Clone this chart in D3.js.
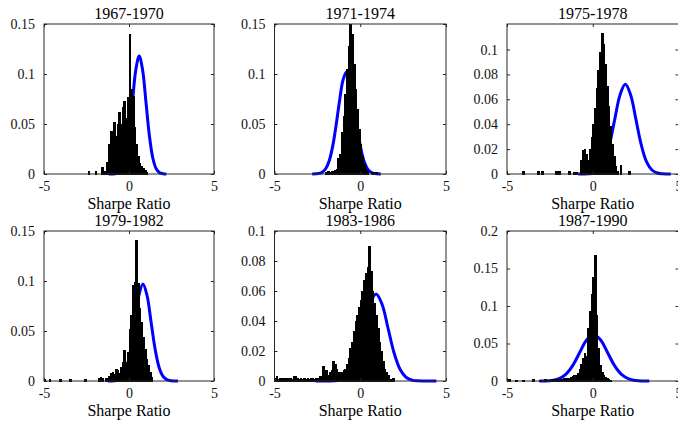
<!DOCTYPE html>
<html>
<head>
<meta charset="utf-8">
<script src="https://cdn.jsdelivr.net/npm/d3@7"></script>
<style>
  html, body { margin: 0; padding: 0; background: #fff; }
  svg { display: block; }
</style>
</head>
<body>
<svg id="chart" width="678" height="423"></svg>
<script>
// Sub-period labels, one small multiple each
const periods = ["1967-1970", "1971-1974", "1975-1978", "1979-1982", "1983-1986", "1987-1990"];

// Shared x axis (Sharpe ratio)
const xDomain = [-5, 5];
const xTicks = [-5, 0, 5];
const xTickLabels = ["-5", "0", "5"];
const binWidth = 0.1;

// Per-panel y ranges and ticks
const yMaxes = [0.15, 0.15, 0.1205, 0.15, 0.1, 0.2];
const yTickSets = [
  [0, 0.05, 0.1, 0.15],
  [0, 0.05, 0.1, 0.15],
  [0, 0.02, 0.04, 0.06, 0.08, 0.1],
  [0, 0.05, 0.1, 0.15],
  [0, 0.02, 0.04, 0.06, 0.08, 0.1],
  [0, 0.05, 0.1, 0.15, 0.2]
];
const yTickLabelSets = [
  ["0", "0.05", "0.1", "0.15"],
  ["0", "0.05", "0.1", "0.15"],
  ["0", "0.02", "0.04", "0.06", "0.08", "0.1"],
  ["0", "0.05", "0.1", "0.15"],
  ["0", "0.02", "0.04", "0.06", "0.08", "0.1"],
  ["0", "0.05", "0.1", "0.15", "0.2"]
];

// Empirical histograms: [bin centre, relative frequency]
const hist1967 = [[-2.35,0.003],[-1.95,0.003],[-1.55,0.007],[-1.45,0.003],[-1.35,0.003],[-1.25,0.012],
  [-1.15,0.03],[-1.05,0.043],[-0.95,0.04],[-0.85,0.052],[-0.75,0.038],[-0.65,0.05],[-0.55,0.062],
  [-0.45,0.05],[-0.35,0.067],[-0.25,0.073],[-0.15,0.056],[-0.05,0.077],[0.05,0.14],[0.15,0.085],
  [0.25,0.078],[0.35,0.047],[0.45,0.03],[0.55,0.018],[0.65,0.011],[0.75,0.008],[0.85,0.006],
  [0.95,0.004],[1.05,0.002]];
const hist1971 = [[-1.95,0.002],[-1.85,0.003],[-1.75,0.002],[-1.65,0.003],[-1.55,0.003],[-1.45,0.004],
  [-1.35,0.005],[-1.25,0.016],[-1.15,0.02],[-1.05,0.042],[-0.95,0.058],[-0.85,0.08],[-0.75,0.105],
  [-0.65,0.128],[-0.55,0.15],[-0.45,0.14],[-0.35,0.11],[-0.25,0.085],[-0.15,0.065],[-0.05,0.045],
  [0.05,0.03],[0.15,0.018],[0.25,0.01],[0.35,0.005],[0.45,0.003],[0.75,0.002],[0.95,0.002]];
const hist1975 = [[-4.05,0.002],[-3.15,0.002],[-2.95,0.002],[-2.15,0.002],[-2.05,0.002],[-1.95,0.002],
  [-1.35,0.002],[-1.05,0.001],[-0.95,0.001],[-0.65,0.011],[-0.55,0.019],[-0.45,0.02],[-0.35,0.016],
  [-0.25,0.011],[-0.15,0.02],[-0.05,0.029],[0.05,0.04],[0.15,0.053],[0.25,0.069],[0.35,0.083],
  [0.45,0.098],[0.55,0.113],[0.65,0.104],[0.75,0.088],[0.85,0.07],[0.95,0.054],[1.05,0.038],
  [1.15,0.024],[1.25,0.014],[1.35,0.006],[1.45,0.002],[1.65,0.007],[2.15,0.002]];
const hist1979 = [[-4.95,0.002],[-4.65,0.002],[-4.05,0.002],[-3.45,0.002],[-2.55,0.002],[-1.75,0.003],
  [-1.65,0.004],[-1.55,0.003],[-1.35,0.003],[-1.25,0.003],[-1.15,0.005],[-1.05,0.008],[-0.95,0.009],
  [-0.85,0.007],[-0.75,0.012],[-0.65,0.011],[-0.55,0.008],[-0.45,0.014],[-0.35,0.019],[-0.25,0.031],
  [-0.15,0.019],[-0.05,0.029],[0.05,0.052],[0.15,0.066],[0.25,0.096],[0.35,0.099],[0.45,0.141],
  [0.55,0.098],[0.65,0.073],[0.75,0.059],[0.85,0.044],[0.95,0.032],[1.05,0.022],[1.15,0.016],
  [1.25,0.009],[1.35,0.004]];
const hist1983 = [[-4.95,0.002],[-4.85,0.003],[-4.75,0.001],[-4.65,0.002],[-4.55,0.002],[-4.45,0.001],
  [-4.35,0.002],[-4.25,0.002],[-4.15,0.001],[-4.05,0.002],[-3.95,0.001],[-3.85,0.003],[-3.75,0.003],
  [-3.65,0.002],[-3.55,0.001],[-3.45,0.002],[-3.35,0.001],[-3.25,0.002],[-3.15,0.001],[-3.05,0.002],
  [-2.95,0.001],[-2.85,0.002],[-2.75,0.002],[-2.65,0.001],[-2.55,0.002],[-2.45,0.002],[-2.35,0.003],
  [-2.25,0.003],[-2.15,0.01],[-2.05,0.004],[-1.95,0.007],[-1.85,0.004],[-1.75,0.006],[-1.65,0.007],
  [-1.55,0.013],[-1.45,0.011],[-1.35,0.008],[-1.25,0.006],[-1.15,0.006],[-1.05,0.006],[-0.95,0.007],
  [-0.85,0.008],[-0.75,0.011],[-0.65,0.015],[-0.55,0.022],[-0.45,0.026],[-0.35,0.033],[-0.25,0.04],
  [-0.15,0.044],[-0.05,0.049],[0.05,0.054],[0.15,0.06],[0.25,0.067],[0.35,0.072],[0.45,0.076],
  [0.55,0.09],[0.65,0.073],[0.75,0.06],[0.85,0.052],[0.95,0.044],[1.05,0.035],[1.15,0.026],
  [1.25,0.02],[1.35,0.013],[1.45,0.008],[1.55,0.006],[1.65,0.004],[1.75,0.001],[1.95,0.002]];
const hist1987 = [[-4.85,0.002],[-4.45,0.001],[-4.05,0.001],[-3.45,0.002],[-3.05,0.001],[-2.75,0.002],
  [-2.55,0.001],[-2.35,0.002],[-2.25,0.002],[-2.15,0.001],[-2.05,0.002],[-1.95,0.002],[-1.85,0.002],
  [-1.75,0.002],[-1.65,0.003],[-1.55,0.003],[-1.45,0.003],[-1.35,0.004],[-1.25,0.005],[-1.15,0.006],
  [-1.05,0.007],[-0.95,0.008],[-0.85,0.01],[-0.75,0.015],[-0.65,0.022],[-0.55,0.03],[-0.45,0.037],
  [-0.35,0.033],[-0.25,0.07],[-0.15,0.093],[-0.05,0.115],[0.05,0.138],[0.15,0.167],[0.25,0.088],
  [0.35,0.044],[0.45,0.021],[0.55,0.012],[0.65,0.008],[0.75,0.005],[0.85,0.003],[0.95,0.002],
  [1.05,0.001]];

// Fitted densities: [Sharpe ratio, density]
const fit1967 = [[-1.2,0],[-0.8,0.0003],[-0.6,0.0013],[-0.4,0.0052],[-0.2,0.016],[0,0.0383],[0.2,0.0716],
  [0.4,0.1041],[0.6,0.118],[0.8,0.1041],[1.0,0.0716],[1.2,0.0383],[1.4,0.016],[1.6,0.0052],
  [1.8,0.0013],[2.0,0.0003],[2.2,0]];
const fit1971 = [[-2.8,0],[-2.4,0.0006],[-2.2,0.002],[-2.0,0.0057],[-1.8,0.0138],[-1.6,0.0284],
  [-1.4,0.0497],[-1.2,0.0741],[-1.0,0.0942],[-0.8,0.102],[-0.6,0.0942],[-0.4,0.0741],[-0.2,0.0497],
  [0,0.0284],[0.2,0.0138],[0.4,0.0057],[0.6,0.002],[0.8,0.0006],[1.2,0]];
const fit1975 = [[-0.85,0],[-0.27,0.0002],[0.04,0.0008],[0.35,0.0032],[0.66,0.0097],[0.97,0.0234],
  [1.28,0.0437],[1.59,0.0635],[1.9,0.072],[2.21,0.0635],[2.52,0.0437],[2.83,0.0234],[3.14,0.0097],
  [3.45,0.0032],[3.76,0.0008],[4.07,0.0002],[4.55,0]];
const fit1979 = [[-1.24,0],[-0.86,0.0002],[-0.62,0.0011],[-0.38,0.0043],[-0.14,0.0131],[0.1,0.0315],
  [0.34,0.0588],[0.58,0.0856],[0.82,0.097],[1.06,0.0856],[1.3,0.0588],[1.54,0.0315],[1.78,0.0131],
  [2.02,0.0043],[2.26,0.0011],[2.5,0.0002],[2.88,0]];
const fit1983 = [[-2.6,0],[-1.53,0.0001],[-1.18,0.0006],[-0.83,0.0025],[-0.48,0.0078],[-0.13,0.0188],
  [0.22,0.0352],[0.57,0.0512],[0.92,0.058],[1.27,0.0512],[1.62,0.0352],[1.97,0.0188],[2.32,0.0078],
  [2.67,0.0025],[3.02,0.0006],[3.37,0.0001],[4.44,0]];
const fit1987 = [[-3.1,0],[-2.82,0.0001],[-2.41,0.0007],[-2.0,0.0027],[-1.59,0.0084],[-1.18,0.0201],
  [-0.77,0.0376],[-0.36,0.0547],[0.05,0.062],[0.46,0.0547],[0.87,0.0376],[1.28,0.0201],[1.69,0.0084],
  [2.1,0.0027],[2.51,0.0007],[2.92,0.0001],[3.3,0]];

const hists = [hist1967, hist1971, hist1975, hist1979, hist1983, hist1987];
const fits = [fit1967, fit1971, fit1975, fit1979, fit1983, fit1987];

// Grid geometry
const colLeft = [44, 274.5, 507];
const colWidth = [170, 171.5, 171.5];
const rowTop = [24, 231];
const plotH = 150;

const serif = "'Liberation Serif', 'Times New Roman', serif";
const axisColor = "#262626";

const svg = d3.select("#chart");

periods.forEach((period, i) => {
  const col = i % 3, row = Math.floor(i / 3);
  const left = colLeft[col], top = rowTop[row], w = colWidth[col];
  const bottom = top + plotH;

  const x = d3.scaleLinear().domain(xDomain).range([left, left + w]);
  const y = d3.scaleLinear().domain([0, yMaxes[i]]).range([bottom, top]);

  const g = svg.append("g");

  // fitted density, drawn beneath the histogram
  g.append("path")
    .datum(fits[i])
    .attr("d", d3.line()
      .x(d => x(d[0]))
      .y(d => y(d[1]))
      .curve(d3.curveCatmullRom.alpha(0.5)))
    .attr("fill", "none")
    .attr("stroke", "#0000ff")
    .attr("stroke-width", 3)
    .attr("stroke-linejoin", "round");

  // histogram bars (solid black, outlined so neighbours merge)
  g.append("g")
    .attr("shape-rendering", "crispEdges")
    .selectAll("rect")
    .data(hists[i])
    .join("rect")
    .attr("x", d => x(d[0] - binWidth / 2))
    .attr("width", d => x(d[0] + binWidth / 2) - x(d[0] - binWidth / 2))
    .attr("y", d => y(d[1]))
    .attr("height", d => y(0) - y(d[1]))
    .attr("fill", "#000")
    .attr("stroke", "#000")
    .attr("stroke-width", 1);

  // axes with inward ticks on all four sides
  const styleAxis = sel => {
    sel.select(".domain").remove();
    sel.selectAll(".tick line").attr("stroke", axisColor);
    sel.selectAll(".tick text")
      .attr("fill", "#111")
      .style("font-family", serif)
      .style("font-size", "14px");
  };

  g.append("g")
    .attr("transform", `translate(0,${bottom})`)
    .call(d3.axisBottom(x).tickValues(xTicks)
      .tickFormat((d, j) => xTickLabels[j])
      .tickSizeInner(-3).tickSizeOuter(0).tickPadding(7.5))
    .call(styleAxis);

  g.append("g")
    .attr("transform", `translate(0,${top})`)
    .call(d3.axisTop(x).tickValues(xTicks).tickFormat("")
      .tickSizeInner(-3).tickSizeOuter(0))
    .call(styleAxis);

  g.append("g")
    .attr("transform", `translate(${left},0)`)
    .call(d3.axisLeft(y).tickValues(yTickSets[i])
      .tickFormat((d, j) => yTickLabelSets[i][j])
      .tickSizeInner(-3).tickSizeOuter(0).tickPadding(9))
    .call(styleAxis);

  g.append("g")
    .attr("transform", `translate(${left + w},0)`)
    .call(d3.axisRight(y).tickValues(yTickSets[i]).tickFormat("")
      .tickSizeInner(-3).tickSizeOuter(0))
    .call(styleAxis);

  // axes box
  g.append("rect")
    .attr("x", left).attr("y", top)
    .attr("width", w).attr("height", plotH)
    .attr("fill", "none")
    .attr("stroke", axisColor)
    .attr("stroke-width", 1);

  // title
  g.append("text")
    .attr("x", left + w / 2).attr("y", top - 5.5)
    .attr("text-anchor", "middle")
    .style("font-family", serif).style("font-size", "16px")
    .attr("fill", "#000")
    .text(period);

  // x label
  g.append("text")
    .attr("x", left + w / 2).attr("y", bottom + 34.5)
    .attr("text-anchor", "middle")
    .style("font-family", serif).style("font-size", "16px")
    .attr("fill", "#000")
    .text("Sharpe Ratio");
});
</script>
</body>
</html>
